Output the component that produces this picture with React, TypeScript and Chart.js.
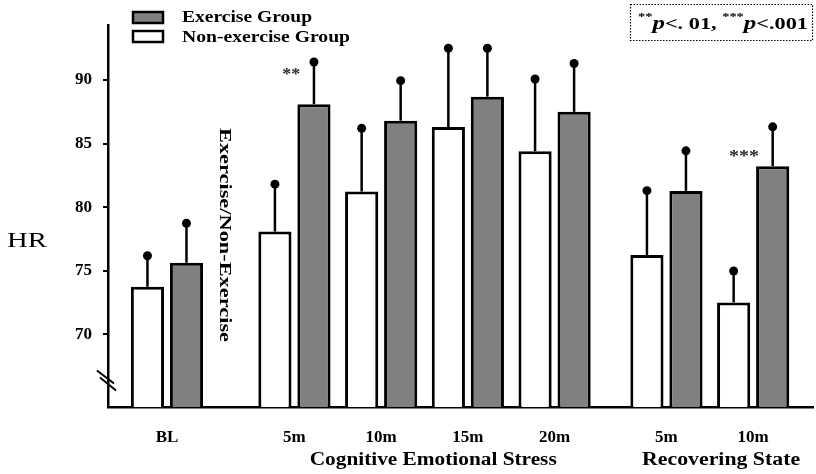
import React, { useEffect, useRef } from "react";
import { Chart, registerables } from "chart.js";

Chart.register(...registerables);

// ---- data ----
const categories = ["BL", "5m", "10m", "15m", "20m", "5m", "10m"];
const groupPositions = [0, 1.47, 2.47, 3.47, 4.47, 5.76, 6.76];
const nonExerciseMean = [73.74, 78.08, 81.23, 86.3, 84.4, 76.24, 72.51];
const nonExerciseSD = [2.44, 3.73, 4.97, 6.2, 5.68, 5.06, 2.47];
const exerciseMean = [75.63, 88.1, 86.8, 88.69, 87.5, 81.28, 83.22];
const exerciseSD = [3.1, 3.32, 3.15, 3.81, 3.8, 3.15, 3.1];
const yTicks = [70, 75, 80, 85, 90];
const phaseLabels = ["Cognitive Emotional Stress", "Recovering State"];
const phaseCenters = [3.07, 6.39];
const significanceIndex = [1, 6];
const significanceText = ["**", "***"];
const significanceY = [90.8, 84.4];
const seriesNames = ["Non-exercise Group", "Exercise Group"];

const SERIF = "'Liberation Serif', 'Times New Roman', serif";
const EX_FILL = "#808080";

// draw text stretched horizontally to a target width
function fitText(
  ctx: CanvasRenderingContext2D,
  text: string,
  x: number,
  y: number,
  width: number,
  align: "left" | "center" = "left"
) {
  const w = ctx.measureText(text).width;
  const sx = width / w;
  ctx.save();
  ctx.translate(x, y);
  ctx.scale(sx, 1);
  ctx.textAlign = align;
  ctx.fillText(text, 0, 0);
  ctx.restore();
}

const overlayPlugin = {
  id: "overlay",
  afterDatasetsDraw(chart: any) {
    const ctx = chart.ctx as CanvasRenderingContext2D;
    const ys = chart.scales.y;
    ctx.save();
    const means = [nonExerciseMean, exerciseMean];
    const sds = [nonExerciseSD, exerciseSD];
    ctx.strokeStyle = "#000";
    ctx.fillStyle = "#000";
    ctx.lineWidth = 2.5;
    for (let d = 0; d < 2; d++) {
      const meta = chart.getDatasetMeta(d);
      meta.data.forEach((bar: any, i: number) => {
        const top = ys.getPixelForValue(means[d][i] + sds[d][i]);
        ctx.beginPath();
        ctx.moveTo(bar.x, bar.y);
        ctx.lineTo(bar.x, top);
        ctx.stroke();
        ctx.beginPath();
        ctx.arc(bar.x, top, 4.5, 0, Math.PI * 2);
        ctx.fill();
      });
    }
    // significance stars
    ctx.font = `bold 17px ${SERIF}`;
    ctx.textAlign = "right";
    ctx.textBaseline = "middle";
    ctx.fillStyle = "#2a2a2a";
    significanceIndex.forEach((idx, k) => {
      const bar: any = chart.getDatasetMeta(1).data[idx];
      const left = bar.x - bar.width / 2;
      const targetW = significanceText[k].length === 2 ? 18 : 30;
      const yy = ys.getPixelForValue(significanceY[k]) + 5;
      fitText(ctx, significanceText[k], left + 3 - targetW, yy, targetW, "left");
    });
    ctx.restore();
  },
  afterDraw(chart: any) {
    const ctx = chart.ctx as CanvasRenderingContext2D;
    const xs = chart.scales.x;
    const ys = chart.scales.y;
    const area = chart.chartArea;
    ctx.save();
    ctx.fillStyle = "#000";
    ctx.strokeStyle = "#000";

    // axis break
    const by = ys.getPixelForValue(66.6);
    ctx.lineWidth = 2;
    ctx.beginPath();
    ctx.moveTo(area.left - 11, by - 7);
    ctx.lineTo(area.left + 6, by + 6);
    ctx.moveTo(area.left - 8, by);
    ctx.lineTo(area.left + 8, by + 13);
    ctx.stroke();

    // y title
    ctx.font = `20px ${SERIF}`;
    ctx.textBaseline = "middle";
    fitText(ctx, "HR", 7, 242, 40, "left");

    // phase labels
    ctx.font = `bold 18px ${SERIF}`;
    ctx.textBaseline = "middle";
    phaseLabels.forEach((t, i) => {
      fitText(ctx, t, xs.getPixelForValue(phaseCenters[i]), 460, i === 0 ? 247 : 158, "center");
    });

    // vertical separator text
    ctx.save();
    ctx.translate(224, 235);
    ctx.rotate(Math.PI / 2);
    ctx.font = `bold 16px ${SERIF}`;
    ctx.textBaseline = "middle";
    fitText(ctx, "Exercise/Non-Exercise", 0, 0, 214, "center");
    ctx.restore();

    // legend
    ctx.lineWidth = 2.5;
    ctx.fillStyle = EX_FILL;
    ctx.fillRect(133, 12, 30, 11);
    ctx.strokeRect(133, 12, 30, 11);
    ctx.fillStyle = "#fff";
    ctx.fillRect(133, 31, 30, 11);
    ctx.strokeRect(133, 31, 30, 11);
    ctx.fillStyle = "#000";
    ctx.font = `bold 16px ${SERIF}`;
    ctx.textBaseline = "middle";
    fitText(ctx, seriesNames[1], 182, 18, 130, "left");
    fitText(ctx, seriesNames[0], 182, 38, 168, "left");

    // note box
    ctx.lineWidth = 1.2;
    ctx.setLineDash([1.5, 1.5]);
    ctx.strokeRect(630.5, 4.5, 182, 36);
    ctx.setLineDash([]);
    const star = `bold 11px ${SERIF}`;
    const pf = `italic bold 19px ${SERIF}`;
    const nf = `bold 17px ${SERIF}`;
    const parts: [string, string, number][] = [
      ["**", star, -9],
      ["p", pf, 0],
      ["<. 01, ", nf, 0],
      ["***", star, -9],
      ["p", pf, 0],
      ["<.001", nf, 0],
    ];
    let total = 0;
    parts.forEach(([t, f]) => {
      ctx.font = f;
      total += ctx.measureText(t).width;
    });
    const sx = 170 / total;
    ctx.save();
    ctx.translate(638, 29);
    ctx.scale(sx, 1);
    ctx.textAlign = "left";
    ctx.textBaseline = "alphabetic";
    let x = 0;
    parts.forEach(([t, f, dy]) => {
      ctx.font = f;
      ctx.fillText(t, x, dy);
      x += ctx.measureText(t).width;
    });
    ctx.restore();

    ctx.restore();
  },
};

export default function App() {
  const ref = useRef<HTMLCanvasElement | null>(null);

  useEffect(() => {
    document.body.style.margin = "0";
    const canvas = ref.current;
    if (!canvas) return;
    const chart = new Chart(canvas, {
      type: "bar",
      data: {
        datasets: [
          {
            label: seriesNames[0],
            data: groupPositions.map((x, i) => ({ x, y: nonExerciseMean[i] })),
            backgroundColor: "#ffffff",
            borderColor: "#000000",
            borderWidth: 3,
          },
          {
            label: seriesNames[1],
            data: groupPositions.map((x, i) => ({ x, y: exerciseMean[i] })),
            backgroundColor: EX_FILL,
            borderColor: "#000000",
            borderWidth: 3,
          },
        ],
      },
      options: {
        animation: false,
        responsive: false,
        maintainAspectRatio: false,
        categoryPercentage: 0.9,
        barPercentage: 0.85,
        layout: { padding: { top: 25, right: 3, left: 0, bottom: 0 } },
        plugins: {
          legend: { display: false },
          tooltip: { enabled: false },
        },
        scales: {
          x: {
            type: "linear",
            offset: false,
            min: -0.68,
            max: 7.45,
            afterBuildTicks: (s: any) => {
              s.ticks = groupPositions.map((v) => ({ value: v }));
            },
            afterFit: (s: any) => {
              s.height = 67;
            },
            grid: { display: false, drawTicks: false },
            border: { display: true, color: "#000", width: 2.5 },
            ticks: {
              autoSkip: false,
              maxRotation: 0,
              padding: 20,
              color: "#000",
              font: { family: SERIF, weight: "bold", size: 17 },
              callback: (_v: any, i: number) => categories[i],
            },
          },
          y: {
            type: "linear",
            min: 64.28,
            max: 94.33,
            afterBuildTicks: (s: any) => {
              s.ticks = yTicks.map((v) => ({ value: v }));
            },
            afterFit: (s: any) => {
              s.width = 108;
            },
            grid: {
              display: true,
              drawOnChartArea: false,
              drawTicks: true,
              tickLength: 5,
              color: "#000",
              lineWidth: 2,
            },
            border: { display: true, color: "#000", width: 2.5 },
            ticks: {
              color: "#000",
              padding: 11,
              font: { family: SERIF, weight: "bold", size: 17 },
            },
          },
        },
      } as any,
      plugins: [overlayPlugin],
    });
    return () => chart.destroy();
  }, []);

  return (
    <div style={{ width: 816, height: 474, background: "#fff" }}>
      <canvas ref={ref} width={816} height={474} style={{ display: "block" }} />
    </div>
  );
}
